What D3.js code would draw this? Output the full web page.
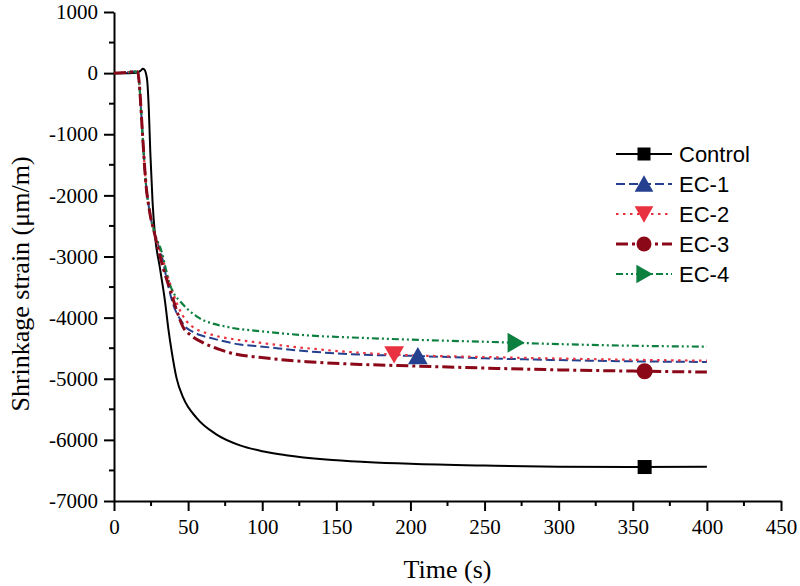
<!DOCTYPE html>
<html><head><meta charset="utf-8">
<script src="https://cdn.jsdelivr.net/npm/d3@7/dist/d3.min.js"></script>
<style>body{margin:0;background:#fff}svg{display:block}</style>
</head><body>
<svg id="chart" width="800" height="586"></svg>
<script>
// ---- data ----
const seriesNames = ["Control", "EC-1", "EC-2", "EC-3", "EC-4"];
const controlData = [[0,0],[10,0],[15,5],[18,40],[19.5,70],[20.5,60],[21.5,0],[22.5,-150],[23.5,-600],[24.5,-1300],[26,-2100],[27.6,-2640],[31,-3190],[34.4,-3730],[36.6,-4170],[38.9,-4550],[42.2,-4990],[46.7,-5310],[55.7,-5640],[69,-5910],[85,-6090],[100,-6185],[116,-6250],[143,-6320],[170,-6360],[200,-6390],[250,-6420],[300,-6440],[350,-6445],[400,-6440]];
const ec1Data = [[0,0],[8,10],[14,25],[16,20],[17,-150],[18.5,-700],[19.5,-1100],[21.5,-1800],[24,-2260],[27.5,-2640],[32,-2970],[36,-3420],[40,-3790],[45,-4040],[49,-4170],[53,-4230],[58,-4285],[64.7,-4330],[85,-4440],[98,-4470],[130,-4550],[166,-4605],[200,-4625],[250,-4665],[300,-4695],[350,-4715],[400,-4725]];
const ec2Data = [[0,0],[8,10],[14,25],[16,20],[17,-150],[18.5,-700],[19.5,-1100],[21.5,-1800],[24,-2260],[27.5,-2640],[32,-2970],[37.5,-3420],[43,-3800],[49,-4060],[55,-4180],[62,-4250],[69,-4300],[82.6,-4360],[98,-4410],[130,-4500],[166,-4575],[200,-4615],[250,-4645],[300,-4670],[350,-4690],[400,-4705]];
const ec3Data = [[0,0],[8,10],[14,25],[16,20],[17,-150],[18.5,-700],[19.5,-1100],[21.5,-1800],[24,-2260],[27.5,-2640],[33.2,-3190],[38.9,-3620],[42.5,-3900],[46.7,-4160],[52,-4290],[60,-4410],[70,-4510],[82.6,-4600],[98,-4650],[130,-4720],[166,-4765],[200,-4790],[250,-4825],[300,-4855],[350,-4875],[400,-4890]];
const ec4Data = [[0,0],[8,10],[14,25],[16,20],[17,-150],[18.5,-700],[19.5,-1100],[21.5,-1800],[24,-2260],[27.5,-2620],[32,-2910],[37.7,-3460],[41,-3630],[44.5,-3730],[55.7,-3980],[78,-4160],[98,-4220],[130,-4290],[166,-4330],[200,-4360],[250,-4395],[295,-4430],[350,-4460],[400,-4475]];
const markerX = [358, 205, 189, 358, 271];
const xTicks = [0,50,100,150,200,250,300,350,400,450];
const yTicks = [1000,0,-1000,-2000,-3000,-4000,-5000,-6000,-7000];
const xLabel = "Time (s)";
const yLabel = "Shrinkage strain (μm/m)";

// ---- styles ----
const allData = [controlData, ec1Data, ec2Data, ec3Data, ec4Data];
const colors = ["#000000", "#24408f", "#e8323f", "#8a0818", "#0d8040"];
const dashes = [null, "9,4", "2.5,4.5", "12,4,3,4", "7,3,2,3,2,3"];
const widths = [2, 2, 2.2, 3, 2.2];
const shapes = ["square", "up", "down", "circle", "right"];

const svg = d3.select("#chart");
const M = {left:114, right:781, top:12, bottom:501};
const x = d3.scaleLinear().domain([0,450]).range([M.left, M.right]);
const y = d3.scaleLinear().domain([-7000,1000]).range([M.bottom, M.top]);

svg.append("rect").attr("width",800).attr("height",586).attr("fill","#fff");

// axes
const serif = "'Liberation Serif','Times New Roman',serif";
const xAxis = d3.axisBottom(x).tickValues(xTicks).tickFormat(d=>String(d)).tickSize(10).tickSizeOuter(0).tickPadding(8);
const gx = svg.append("g").attr("transform",`translate(0,${M.bottom})`).call(xAxis);
const yAxis = d3.axisLeft(y).tickValues(yTicks).tickFormat(d=>String(d)).tickSize(10).tickSizeOuter(0).tickPadding(6);
const gy = svg.append("g").attr("transform",`translate(${M.left},0)`).call(yAxis);
[gx,gy].forEach(g=>{
  g.attr("font-family",null).attr("font-size",null);
  g.select(".domain").attr("stroke","#000").attr("stroke-width",2);
  g.selectAll(".tick line").attr("stroke","#000").attr("stroke-width",2);
  g.selectAll(".tick text").style("font-family",serif).style("font-size","21px").attr("fill","#000");
});
// minor ticks
const xMinor = d3.range(0,450,50).map(v=>v+25);
svg.append("g").selectAll("line").data(xMinor).join("line")
  .attr("x1",d=>x(d)).attr("x2",d=>x(d)).attr("y1",M.bottom).attr("y2",M.bottom+5)
  .attr("stroke","#000").attr("stroke-width",2);
const yMinor = d3.range(-7000,1000,1000).map(v=>v+500);
svg.append("g").selectAll("line").data(yMinor).join("line")
  .attr("x1",M.left-5).attr("x2",M.left).attr("y1",d=>y(d)).attr("y2",d=>y(d))
  .attr("stroke","#000").attr("stroke-width",2);

// axis titles
svg.append("text").attr("x",x(225)).attr("y",578).attr("text-anchor","middle")
  .style("font-family",serif).style("font-size","26px").text(xLabel);
svg.append("text").attr("transform",`translate(29,284) rotate(-90)`).attr("text-anchor","middle")
  .style("font-family",serif).style("font-size","26px").text(yLabel);

// lines
const line = d3.line().x(d=>x(d[0])).y(d=>y(d[1])).curve(d3.curveMonotoneX);
const order = [0,1,2,4,3];
order.forEach(i=>{
  svg.append("path").datum(allData[i]).attr("d",line).attr("fill","none")
    .attr("stroke",colors[i]).attr("stroke-width",widths[i])
    .attr("stroke-dasharray",dashes[i]);
});

function interp(data, xv){
  for(let k=0;k<data.length-1;k++){
    const a=data[k], b=data[k+1];
    if(xv>=a[0] && xv<=b[0]){ const t=(xv-a[0])/(b[0]-a[0]); return a[1]+t*(b[1]-a[1]); }
  }
  return data[data.length-1][1];
}
function drawMarker(g, shape, cx, cy, s, color){
  if(shape==="square"){
    g.append("rect").attr("x",cx-s/2).attr("y",cy-s/2).attr("width",s).attr("height",s).attr("fill",color);
  } else if(shape==="circle"){
    g.append("circle").attr("cx",cx).attr("cy",cy).attr("r",s/2).attr("fill",color);
  } else {
    const h=s*0.9, w=s*1.1;
    let pts;
    if(shape==="up") pts=[[cx,cy-h/2-1],[cx-w/2,cy+h/2],[cx+w/2,cy+h/2]];
    else if(shape==="down") pts=[[cx,cy+h/2+1],[cx-w/2,cy-h/2],[cx+w/2,cy-h/2]];
    else pts=[[cx+h/2+1,cy],[cx-h/2,cy-w/2],[cx-h/2,cy+w/2]];
    g.append("polygon").attr("points",pts.map(p=>p.join(",")).join(" ")).attr("fill",color);
  }
}
const mSizes = [14, 18, 18, 16, 18];
const mg = svg.append("g");
allData.forEach((d,i)=>{
  drawMarker(mg, shapes[i], x(markerX[i]), y(interp(d, markerX[i])), mSizes[i], colors[i]);
});

// legend
const lg = svg.append("g");
const legSizes = [13, 17, 17, 15, 17];
seriesNames.forEach((name,i)=>{
  const cy = 154 + i*30;
  lg.append("line").attr("x1",616).attr("x2",672).attr("y1",cy).attr("y2",cy)
    .attr("stroke",colors[i]).attr("stroke-width",widths[i]).attr("stroke-dasharray",dashes[i]);
  drawMarker(lg, shapes[i], 644, cy, legSizes[i], colors[i]);
  lg.append("text").attr("x",679).attr("y",cy+8).style("font-family","'Liberation Sans',Arial,sans-serif")
    .style("font-size","22px").attr("fill","#000").text(name);
});
</script>
</body></html>
